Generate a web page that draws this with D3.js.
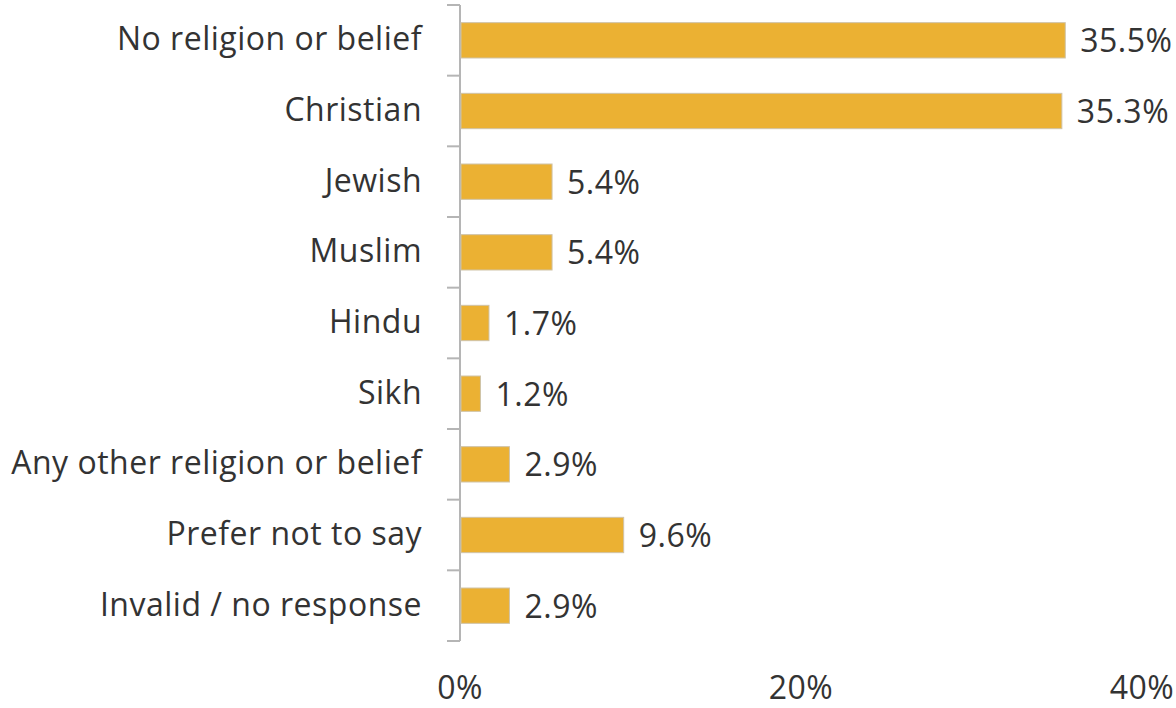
<!DOCTYPE html>
<html>
<head>
<meta charset="utf-8">
<script src="https://cdn.jsdelivr.net/npm/d3@7"></script>
<style>
  html, body { margin: 0; padding: 0; background: #fff; }
  svg { display: block; }
  text { font-family: "Open Sans", "Noto Sans", sans-serif; fill: #333; letter-spacing: 0.5px; }
</style>
</head>
<body>
<svg id="chart" width="1176" height="708"></svg>
<script>
// Religion or belief of respondents, share of total (%)
const categories = [
  "No religion or belief",
  "Christian",
  "Jewish",
  "Muslim",
  "Hindu",
  "Sikh",
  "Any other religion or belief",
  "Prefer not to say",
  "Invalid / no response"
];
const shares = [35.5, 35.3, 5.4, 5.4, 1.7, 1.2, 2.9, 9.6, 2.9];
const xTicks = [0, 20, 40];

const rows = categories.map((c, i) => ({ category: c, value: shares[i] }));

const svg = d3.select("#chart");
const axisX = 460;
const fontSize = 32;

const x = d3.scaleLinear().domain([0, 40]).range([axisX, 1142]);
const y = d3.scaleBand().domain(categories).range([5, 641]).paddingInner(0.5).paddingOuter(0.25);

// Category axis: vertical line with ticks at band boundaries
const step = y.step();
const bounds = d3.range(categories.length + 1).map(i => 5 + i * step);
svg.append("line")
  .attr("x1", axisX).attr("x2", axisX)
  .attr("y1", 5).attr("y2", 641)
  .attr("stroke", "#b5b5b5").attr("stroke-width", 2);
svg.selectAll("line.tick").data(bounds).join("line")
  .attr("class", "tick")
  .attr("x1", axisX - 13).attr("x2", axisX)
  .attr("y1", d => d).attr("y2", d => d)
  .attr("stroke", "#b5b5b5").attr("stroke-width", 2);

// Bars
svg.selectAll("rect.bar").data(rows).join("rect")
  .attr("class", "bar")
  .attr("x", x(0) + 1)
  .attr("y", d => y(d.category))
  .attr("width", d => x(d.value) - x(0) - 1)
  .attr("height", y.bandwidth())
  .attr("fill", "#ebb133")
  .attr("stroke", "#cfc3a8").attr("stroke-width", 1);

// Category labels
svg.selectAll("text.cat").data(rows).join("text")
  .attr("class", "cat")
  .attr("x", 422)
  .attr("y", d => y(d.category) + y.bandwidth() / 2 + 10)
  .attr("text-anchor", "end")
  .style("font-size", fontSize + "px")
  .text(d => d.category);

// Value labels
svg.selectAll("text.val").data(rows).join("text")
  .attr("class", "val")
  .attr("x", d => x(d.value) + 15)
  .attr("y", d => y(d.category) + y.bandwidth() / 2 + 12)
  .style("font-size", fontSize + "px")
  .text(d => d.value.toFixed(1) + "%");

// Percentage axis labels
svg.selectAll("text.xt").data(xTicks).join("text")
  .attr("class", "xt")
  .attr("x", d => x(d))
  .attr("y", 699)
  .attr("text-anchor", "middle")
  .style("font-size", fontSize + "px")
  .text(d => d + "%");
</script>
</body>
</html>
